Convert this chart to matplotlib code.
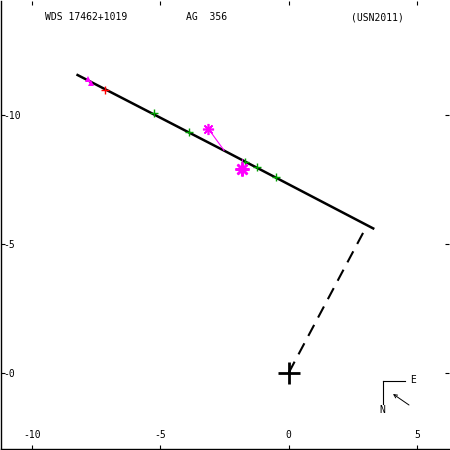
import matplotlib
matplotlib.use("Agg")
import matplotlib.pyplot as plt

plt.rcParams['font.family'] = ['DejaVu Sans Mono']

# orbita aparente (praticamente retilinea)
orbit_x = [-8.26, -2.5, 3.33]
orbit_y = [-11.56, -8.60, -5.57]

# linha tracejada: primaria -> periastro
node_x = [0.0, 3.0]
node_y = [0.0, -5.62]

# medidas
tri_x = [-7.83, -7.71]
tri_y = [-11.40, -11.21]

red_x = [-7.13]
red_y = [-10.94]

green_x = [-5.26, -3.88, -1.71, -1.25, -0.50]
green_y = [-10.08, -9.33, -8.17, -7.98, -7.57]

ast_x = [-3.13, -1.83]
ast_y = [-9.46, -7.89]
# ponto correspondente na orbita (residuos)
ast_ox = [-2.52, -1.80]
ast_oy = [-8.62, -8.25]

xticks = [-10, -5, 0, 5]
xlabels = ['-10', '-5', '0', '5']
yticks = [-10, -5, 0]
ylabels = ['-10', '-5', '-0']

fig = plt.figure(figsize=(4.5, 4.5), dpi=100)
ax = fig.add_axes([0.002, 0.002, 0.996, 0.996])

ax.plot(orbit_x, orbit_y, color='black', lw=1.8, solid_capstyle='butt')
ax.plot(node_x, node_y, color='black', lw=1.5, linestyle=(0, (6, 4)))
ax.plot([0], [0], marker='+', color='black', ms=16, mew=2)

# residuos
for x0, y0, x1, y1 in zip(ast_x, ast_y, ast_ox, ast_oy):
    ax.plot([x0, x1], [y0, y1], color='#ff00ff', lw=0.8)

ax.plot(tri_x, tri_y, '^', color='#ff00ff', ms=5, mew=0, linestyle='none')
ax.plot(red_x, red_y, '+', color='red', ms=6, mew=1, linestyle='none')
ax.plot(green_x, green_y, '+', color='#00a000', ms=6, mew=1, linestyle='none')
ax.plot(ast_x[:1], ast_y[:1], marker=(8, 2, 0), color='#ff00ff', ms=8, mew=1.2, linestyle='none')
ax.plot(ast_x[1:], ast_y[1:], marker=(8, 2, 0), color='#ff00ff', ms=10, mew=1.8, linestyle='none')

ax.set_xlim(-11.2, 6.24)
ax.set_ylim(2.96, -14.41)

ax.set_xticks(xticks)
ax.set_xticklabels(xlabels)
ax.set_yticks(yticks)
ax.set_yticklabels(ylabels)
ax.tick_params(direction='in', length=3, width=0.8, top=True, right=True,
               labelsize=7)
ax.tick_params(axis='x', pad=-14)
ax.tick_params(axis='y', pad=-1.5)
for lab in ax.get_yticklabels():
    lab.set_horizontalalignment('left')

for s in ['top', 'right']:
    ax.spines[s].set_visible(False)
for s in ['left', 'bottom']:
    ax.spines[s].set_linewidth(1.0)

# cabecalho
fig.text(45 / 450, 1 - 17 / 450, 'WDS 17462+1019', fontsize=7, va='center', ha='left')
fig.text(186 / 450, 1 - 17 / 450, 'AG  356', fontsize=7, va='center', ha='left')
fig.text(351 / 450, 1 - 17 / 450, '(USN2011)', fontsize=7, va='center', ha='left')

# bussola N/E
ax.plot([383 / 450, 405 / 450], [1 - 381 / 450, 1 - 381 / 450], color='black', lw=0.8,
        transform=fig.transFigure)
ax.plot([383 / 450, 383 / 450], [1 - 381 / 450, 1 - 404 / 450], color='black', lw=0.8,
        transform=fig.transFigure)
fig.text(413 / 450, 1 - 380 / 450, 'E', fontsize=7, va='center', ha='center')
fig.text(382 / 450, 1 - 410 / 450, 'N', fontsize=7, va='center', ha='center')
ax.annotate('', xy=(393 / 450, 1 - 394 / 450), xytext=(409 / 450, 1 - 405 / 450),
            xycoords='figure fraction', textcoords='figure fraction',
            arrowprops=dict(arrowstyle='->', lw=0.7, color='black',
                            shrinkA=0, shrinkB=0, mutation_scale=6))

fig.savefig('out.png', dpi=100)
